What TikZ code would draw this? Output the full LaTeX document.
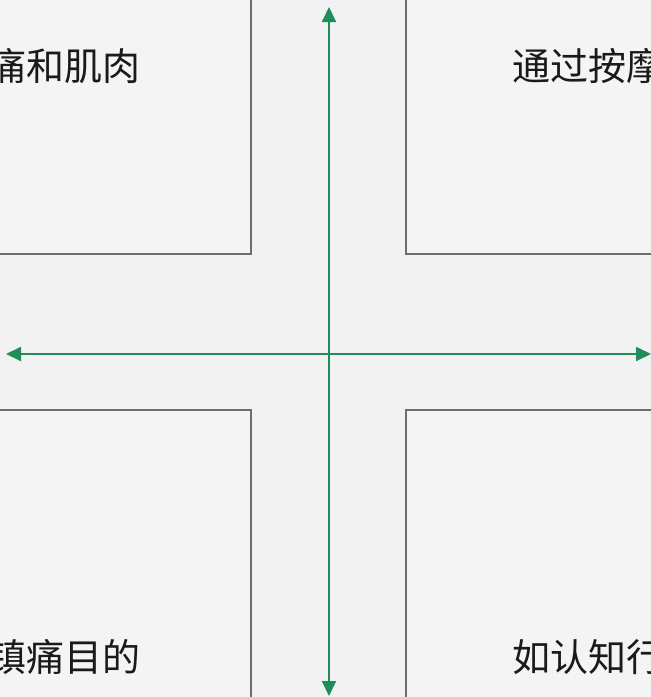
\documentclass[tikz,border=0pt]{standalone}
\usepackage{fontspec}
\newfontfamily\cjk{Noto Sans CJK SC}
\usetikzlibrary{arrows.meta}
\definecolor{bgc}{HTML}{F2F2F2}
\definecolor{boxc}{HTML}{F4F4F4}
\definecolor{edgec}{HTML}{6E6E6E}
\definecolor{axisc}{HTML}{1F8C5A}
\definecolor{txtc}{HTML}{1A1A1A}
\tikzset{
  quad/.style={draw=edgec, fill=boxc, line width=1.1pt},
  axis/.style={draw=axisc, line width=1.8pt, {Triangle[length=15pt,width=14pt]}-{Triangle[length=15pt,width=14pt]}},
  lbl/.style={font=\cjk\fontsize{38}{40}\selectfont, text=txtc, inner sep=0pt}
}
\begin{document}
\begin{tikzpicture}[x=1pt,y=-1pt]
\useasboundingbox (0,0) rectangle (651,697);
\clip (0,0) rectangle (651,697);
\fill[bgc] (0,0) rectangle (651,697);
% quadrant boxes
\draw[quad] (-20,-20) rectangle (251,254);
\draw[quad] (406,-20) rectangle (680,254);
\draw[quad] (-20,410) rectangle (251,720);
\draw[quad] (406,410) rectangle (680,720);
% labels
\node[lbl, anchor=east] (tl) at (141,66) {痛和肌肉};
\node[lbl, anchor=east] (bl) at (141,657) {镇痛目的};
\node[lbl, anchor=west] (tr) at (512,66) {通过按摩};
\node[lbl, anchor=west] (br) at (512,657) {如认知行};
% axes
\coordinate (top) at (329,7);
\coordinate (bot) at (329,696);
\coordinate (left) at (6,354);
\coordinate (right) at (651,354);
\draw[axis] (bot) -- (top);
\draw[axis] (left) -- (right);
\end{tikzpicture}
\end{document}
